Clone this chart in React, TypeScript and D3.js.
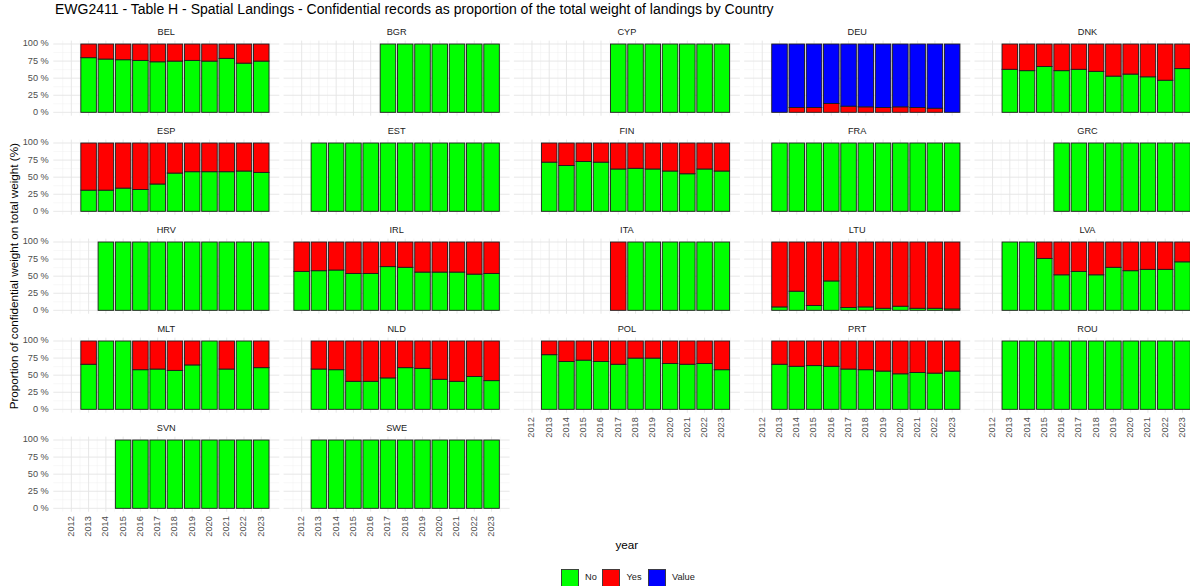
import React from "react";
import * as d3 from "d3";

// Landings share by confidentiality flag, 2012–2023, one row per country (percent; null = no record)
const countries = ["BEL","BGR","CYP","DEU","DNK","ESP","EST","FIN","FRA","GRC","HRV","IRL","ITA","LTU","LVA","MLT","NLD","POL","PRT","ROU","SVN","SWE"];
const years = [2012,2013,2014,2015,2016,2017,2018,2019,2020,2021,2022,2023];
const categories = ["No","Yes","Value"];
const yTicks = [0, 0.25, 0.5, 0.75, 1];

const _ = null;
const noPct: (number | null)[][] = [
  [_, 80, 78, 77, 76, 74, 75, 76, 75, 79, 72, 75], // BEL
  [_, _, _, _, _, 100, 100, 100, 100, 100, 100, 100], // BGR
  [_, _, _, _, _, 100, 100, 100, 100, 100, 100, 100], // CYP
  [_, 0, 0, 0, 0, 0, 0, 0, 0, 0, 0, 0], // DEU
  [_, 63, 61, 67, 61, 63, 60, 53, 56, 52, 47, 64], // DNK
  [_, 31, 31, 34, 32, 40, 56, 58, 58, 58, 59, 57], // ESP
  [_, 100, 100, 100, 100, 100, 100, 100, 100, 100, 100, 100], // EST
  [_, 72, 67, 73, 72, 62, 63, 62, 59, 55, 62, 59], // FIN
  [_, 100, 100, 100, 100, 100, 100, 100, 100, 100, 100, 100], // FRA
  [_, _, _, _, 100, 100, 100, 100, 100, 100, 100, 100], // GRC
  [_, _, 100, 100, 100, 100, 100, 100, 100, 100, 100, 100], // HRV
  [57, 58, 59, 54, 54, 64, 63, 56, 56, 56, 53, 54], // IRL
  [_, _, _, _, _, 0, 100, 100, 100, 100, 100, 100], // ITA
  [_, 5, 28, 7, 43, 4, 5, 3, 6, 3, 3, 2], // LTU
  [_, 100, 100, 76, 52, 57, 52, 63, 58, 60, 60, 71], // LVA
  [_, 66, 100, 100, 58, 59, 57, 65, 100, 59, 100, 61], // MLT
  [_, 59, 58, 41, 41, 46, 61, 60, 44, 41, 48, 42], // NLD
  [_, 80, 70, 72, 70, 66, 75, 75, 67, 66, 67, 58], // POL
  [_, 66, 63, 64, 63, 59, 58, 56, 52, 54, 53, 56], // PRT
  [_, 100, 100, 100, 100, 100, 100, 100, 100, 100, 100, 100], // ROU
  [_, _, _, 100, 100, 100, 100, 100, 100, 100, 100, 100], // SVN
  [_, 100, 100, 100, 100, 100, 100, 100, 100, 100, 100, 100], // SWE
];
const yesPct: (number | null)[][] = [
  [_, 20, 22, 23, 24, 26, 25, 24, 25, 21, 28, 25], // BEL
  [_, _, _, _, _, 0, 0, 0, 0, 0, 0, 0], // BGR
  [_, _, _, _, _, 0, 0, 0, 0, 0, 0, 0], // CYP
  [_, 0, 7, 7, 13, 9, 8, 7, 8, 7, 6, 0], // DEU
  [_, 37, 39, 33, 39, 37, 40, 47, 44, 48, 53, 36], // DNK
  [_, 69, 69, 66, 68, 60, 44, 42, 42, 42, 41, 43], // ESP
  [_, 0, 0, 0, 0, 0, 0, 0, 0, 0, 0, 0], // EST
  [_, 28, 33, 27, 28, 38, 37, 38, 41, 45, 38, 41], // FIN
  [_, 0, 0, 0, 0, 0, 0, 0, 0, 0, 0, 0], // FRA
  [_, _, _, _, 0, 0, 0, 0, 0, 0, 0, 0], // GRC
  [_, _, 0, 0, 0, 0, 0, 0, 0, 0, 0, 0], // HRV
  [43, 42, 41, 46, 46, 36, 37, 44, 44, 44, 47, 46], // IRL
  [_, _, _, _, _, 100, 0, 0, 0, 0, 0, 0], // ITA
  [_, 95, 72, 93, 57, 96, 95, 97, 94, 97, 97, 98], // LTU
  [_, 0, 0, 24, 48, 43, 48, 37, 42, 40, 40, 29], // LVA
  [_, 34, 0, 0, 42, 41, 43, 35, 0, 41, 0, 39], // MLT
  [_, 41, 42, 59, 59, 54, 39, 40, 56, 59, 52, 58], // NLD
  [_, 20, 30, 28, 30, 34, 25, 25, 33, 34, 33, 42], // POL
  [_, 34, 37, 36, 37, 41, 42, 44, 48, 46, 47, 44], // PRT
  [_, 0, 0, 0, 0, 0, 0, 0, 0, 0, 0, 0], // ROU
  [_, _, _, 0, 0, 0, 0, 0, 0, 0, 0, 0], // SVN
  [_, 0, 0, 0, 0, 0, 0, 0, 0, 0, 0, 0], // SWE
];
// only DEU reports the "Value" flag
const valuePct: (number | null)[][] = countries.map((c) =>
  c === "DEU" ? [_, 100, 93, 93, 87, 91, 92, 93, 92, 93, 94, 100] : years.map(() => 0)
);

const fillColors: Record<string, string> = { No: "#00ff00", Yes: "#ff0000", Value: "#0000ff" };

// facet layout
const NCOL = 5;
const colPitch = 230.3;
const rowPitch = 99;
const panelLeft0 = 53.3;
const panelTop0 = 40.6;
const panelW = 226;
const panelH = 75.13;
const FONT = "'Liberation Sans', Arial, Helvetica, sans-serif";
const SMALL = 9.2;

export default function App() {
  const x = d3.scaleLinear().domain([2010.955, 2024.045]).range([0, panelW]);
  const y = d3.scaleLinear().domain([-0.05, 1.05]).range([panelH, 0]);
  const barW = x(2012.9) - x(2012);
  const minorX = d3.range(2011.5, 2024, 1);
  const minorY = [0.125, 0.375, 0.625, 0.875];
  const nRows = Math.ceil(countries.length / NCOL);

  const panels = countries.map((country, i) => {
    const col = i % NCOL;
    const row = Math.floor(i / NCOL);
    const left = panelLeft0 + col * colPitch;
    const top = panelTop0 + row * rowPitch;
    // bottom panel of its column gets the year labels
    const isBottom = i + NCOL >= countries.length;
    const rows = [noPct[i], yesPct[i], valuePct[i]];

    return (
      <g key={country} transform={`translate(${left},${top})`}>
        {minorY.map((v) => (
          <line key={"my" + v} x1={0} x2={panelW} y1={y(v)} y2={y(v)} stroke="#f0f0f0" strokeWidth={0.5} />
        ))}
        {minorX.map((v) => (
          <line key={"mx" + v} x1={x(v)} x2={x(v)} y1={0} y2={panelH} stroke="#f0f0f0" strokeWidth={0.5} />
        ))}
        {yTicks.map((v) => (
          <line key={"gy" + v} x1={0} x2={panelW} y1={y(v)} y2={y(v)} stroke="#e4e4e4" strokeWidth={0.9} />
        ))}
        {years.map((yr) => (
          <line key={"gx" + yr} x1={x(yr)} x2={x(yr)} y1={0} y2={panelH} stroke="#e4e4e4" strokeWidth={0.9} />
        ))}
        {years.map((yr, k) => {
          let acc = 0;
          return categories.map((cat, ci) => {
            const v = rows[ci][k];
            if (v == null || v <= 0) return null;
            const y0 = acc / 100;
            acc += v;
            const y1 = acc / 100;
            return (
              <rect
                key={yr + cat}
                x={x(yr) - barW / 2}
                y={y(y1)}
                width={barW}
                height={y(y0) - y(y1)}
                fill={fillColors[cat]}
                stroke="#1c1c1c"
                strokeWidth={0.9}
              />
            );
          });
        })}
        <text x={panelW / 2} y={-8.3} textAnchor="middle" dominantBaseline="middle" fontSize={SMALL} fill="#1a1a1a" fontFamily={FONT}>
          {country}
        </text>
        {col === 0 &&
          yTicks.map((v) => (
            <text key={"yl" + v} x={-4.5} y={y(v)} textAnchor="end" dominantBaseline="middle" fontSize={SMALL} fill="#4d4d4d" fontFamily={FONT}>
              {d3.format(".0f")(v * 100) + " %"}
            </text>
          ))}
        {isBottom &&
          years.map((yr) => (
            <text
              key={"xl" + yr}
              transform={`translate(${x(yr)},${panelH + 4.5}) rotate(-90)`}
              textAnchor="end"
              dominantBaseline="middle"
              fontSize={SMALL}
              fill="#4d4d4d"
              fontFamily={FONT}
            >
              {yr}
            </text>
          ))}
      </g>
    );
  });

  const plotMid = panelLeft0 + (NCOL * colPitch - (colPitch - panelW)) / 2;
  const plotMidY = panelTop0 + ((nRows - 1) * rowPitch + panelH) / 2;
  const legendKeys = [
    { cat: "No", kx: 561.5, tx: 585 },
    { cat: "Yes", kx: 602.5, tx: 626.5 },
    { cat: "Value", kx: 648.5, tx: 672 },
  ];

  return (
    <svg
      width={1190}
      height={586}
      style={{ position: "absolute", left: 0, top: 0, background: "#ffffff" }}
      fontFamily={FONT}
    >
      <rect x={0} y={0} width={1190} height={586} fill="#ffffff" />
      <text x={55} y={10.5} dominantBaseline="middle" fontSize={14} fill="#000000">
        EWG2411 - Table H - Spatial Landings - Confidential records as proportion of the total weight of landings by Country
      </text>
      {panels}
      <text
        transform={`translate(14.5,${plotMidY}) rotate(-90)`}
        textAnchor="middle"
        dominantBaseline="middle"
        fontSize={11.7}
        fill="#000000"
      >
        Proportion of confidential weight on total weight (%)
      </text>
      <text x={plotMid} y={546} textAnchor="middle" dominantBaseline="middle" fontSize={11.7} fill="#000000">
        year
      </text>
      {legendKeys.map((k) => (
        <g key={k.cat}>
          <rect x={k.kx} y={569.5} width={17} height={17} fill={fillColors[k.cat]} stroke="#333333" strokeWidth={0.9} />
          <text x={k.tx} y={578} dominantBaseline="middle" fontSize={SMALL} fill="#1a1a1a">
            {k.cat}
          </text>
        </g>
      ))}
    </svg>
  );
}
